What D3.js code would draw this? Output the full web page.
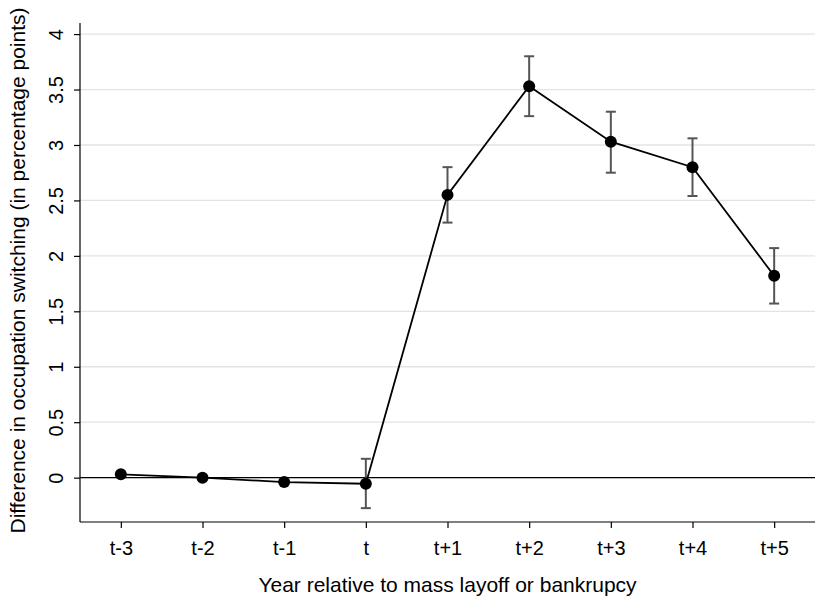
<!DOCTYPE html>
<html>
<head>
<meta charset="utf-8">
<script src="https://cdn.jsdelivr.net/npm/d3@7"></script>
<style>
  body { margin: 0; background: #fff; }
  text { font-family: "Liberation Sans", Arial, sans-serif; }
</style>
</head>
<body>
<div id="chart-area"></div>
<script>
// data
const years = ["t-3", "t-2", "t-1", "t", "t+1", "t+2", "t+3", "t+4", "t+5"]
const estimate = [0.03, 0.0, -0.04, -0.055, 2.55, 3.53, 3.03, 2.80, 1.82]
const ciLow = [0.01, -0.015, -0.055, -0.275, 2.30, 3.26, 2.75, 2.54, 1.57]
const ciHigh = [0.05, 0.015, -0.025, 0.17, 2.80, 3.80, 3.30, 3.06, 2.07]
const yTicks = [0, 0.5, 1, 1.5, 2, 2.5, 3, 3.5, 4]

const W = 825, H = 601
const MARGIN = {LEFT: 80, RIGHT: 10, TOP: 23, BOTTOM: 79}
const WIDTH = W - MARGIN.LEFT - MARGIN.RIGHT
const HEIGHT = H - MARGIN.TOP - MARGIN.BOTTOM

const svg = d3.select("#chart-area").append("svg")
  .attr("width", W)
  .attr("height", H)

const g = svg.append("g")
  .attr("transform", `translate(${MARGIN.LEFT}, ${MARGIN.TOP})`)

const x = d3.scalePoint()
  .domain(years)
  .range([0, WIDTH])
  .padding(0.5)

const y = d3.scaleLinear()
  .domain([-0.4, 4.1])
  .range([HEIGHT, 0])

// gridlines
g.selectAll(".grid").data(yTicks).enter().append("line")
  .attr("class", "grid")
  .attr("x1", 0).attr("x2", WIDTH)
  .attr("y1", d => y(d)).attr("y2", d => y(d))
  .attr("stroke", "#e3e3e3")
  .attr("stroke-width", 1.3)

// zero line
g.append("line")
  .attr("x1", 0).attr("x2", WIDTH)
  .attr("y1", y(0)).attr("y2", y(0))
  .attr("stroke", "#000")
  .attr("stroke-width", 1.3)

// axes
const yAxis = g.append("g")
  .call(d3.axisLeft(y).tickValues(yTicks).tickSize(6).tickFormat(d3.format("")))
yAxis.select(".domain").attr("d", `M0,0V${HEIGHT}`).attr("stroke-width", 1.2)
yAxis.selectAll(".tick line").attr("stroke-width", 1.2)
yAxis.selectAll(".tick text")
  .attr("font-size", "20px")
  .attr("fill", "#000")
  .attr("text-anchor", "middle")
  .attr("transform", "rotate(-90)")
  .attr("x", 0)
  .attr("y", -17)
  .attr("dy", "0")

const xAxis = g.append("g")
  .attr("transform", `translate(0, ${HEIGHT})`)
  .call(d3.axisBottom(x).tickSize(6).tickPadding(13))
xAxis.select(".domain").attr("d", `M0,0H${WIDTH}`).attr("stroke-width", 1.2)
xAxis.selectAll(".tick line").attr("stroke-width", 1.2)
xAxis.selectAll(".tick text")
  .attr("font-size", "20px")
  .attr("fill", "#000")

// labels
g.append("text")
  .attr("x", WIDTH / 2)
  .attr("y", HEIGHT + 70)
  .attr("font-size", "21px")
  .attr("text-anchor", "middle")
  .text("Year relative to mass layoff or bankrupcy")

g.append("text")
  .attr("x", -(HEIGHT / 2) + 2)
  .attr("y", -55)
  .attr("font-size", "21px")
  .attr("text-anchor", "middle")
  .attr("transform", "rotate(-90)")
  .text("Difference in occupation switching (in percentage points)")

// error bars
const bars = g.selectAll(".err").data(years).enter().append("g")
  .attr("class", "err")
  .attr("stroke", "#555")
  .attr("stroke-width", 2)
bars.append("line")
  .attr("x1", d => x(d)).attr("x2", d => x(d))
  .attr("y1", (d, i) => y(ciLow[i])).attr("y2", (d, i) => y(ciHigh[i]))
bars.append("line")
  .attr("x1", d => x(d) - 5).attr("x2", d => x(d) + 5)
  .attr("y1", (d, i) => y(ciLow[i])).attr("y2", (d, i) => y(ciLow[i]))
bars.append("line")
  .attr("x1", d => x(d) - 5).attr("x2", d => x(d) + 5)
  .attr("y1", (d, i) => y(ciHigh[i])).attr("y2", (d, i) => y(ciHigh[i]))

// connecting line
const line = d3.line()
  .x((d, i) => x(years[i]))
  .y(d => y(d))

g.append("path")
  .datum(estimate)
  .attr("d", line)
  .attr("fill", "none")
  .attr("stroke", "#000")
  .attr("stroke-width", 1.8)

g.selectAll(".pt").data(estimate).enter().append("circle")
  .attr("class", "pt")
  .attr("cx", (d, i) => x(years[i]))
  .attr("cy", d => y(d))
  .attr("r", 6)
  .attr("fill", "#000")
</script>
</body>
</html>
